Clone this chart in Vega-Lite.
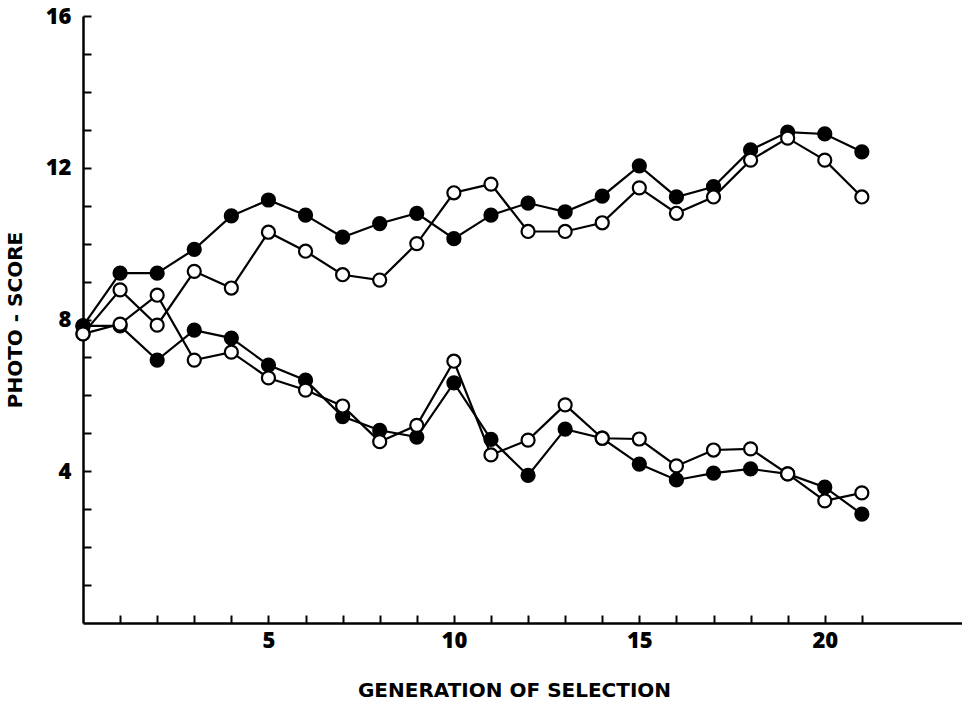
{
  "$schema": "https://vega.github.io/schema/vega-lite/v6.json",
  "width": 879,
  "height": 607,
  "autosize": {"type": "none"},
  "padding": {"left": 83, "top": 16, "right": 0, "bottom": 80},
  "background": "white",
  "config": {
    "view": {"stroke": null},
    "axis": {
      "grid": false,
      "domainColor": "black",
      "domainWidth": 2.5,
      "tickColor": "black",
      "tickWidth": 2,
      "tickSize": -8,
      "labelFont": "Open Sans",
      "labelFontWeight": 800,
      "labelFontSize": 22,
      "labelColor": "black",
      "titleFont": "DejaVu Sans",
      "titleFontWeight": "bold",
      "titleFontSize": 20,
      "titleColor": "black"
    }
  },
  "data": {
    "values": [
      {"g": 0, "v": 7.83, "series": "upper_filled", "type": "filled"},
      {"g": 1, "v": 9.22, "series": "upper_filled", "type": "filled"},
      {"g": 2, "v": 9.22, "series": "upper_filled", "type": "filled"},
      {"g": 3, "v": 9.85, "series": "upper_filled", "type": "filled"},
      {"g": 4, "v": 10.73, "series": "upper_filled", "type": "filled"},
      {"g": 5, "v": 11.15, "series": "upper_filled", "type": "filled"},
      {"g": 6, "v": 10.75, "series": "upper_filled", "type": "filled"},
      {"g": 7, "v": 10.17, "series": "upper_filled", "type": "filled"},
      {"g": 8, "v": 10.53, "series": "upper_filled", "type": "filled"},
      {"g": 9, "v": 10.8, "series": "upper_filled", "type": "filled"},
      {"g": 10, "v": 10.13, "series": "upper_filled", "type": "filled"},
      {"g": 11, "v": 10.75, "series": "upper_filled", "type": "filled"},
      {"g": 12, "v": 11.07, "series": "upper_filled", "type": "filled"},
      {"g": 13, "v": 10.84, "series": "upper_filled", "type": "filled"},
      {"g": 14, "v": 11.25, "series": "upper_filled", "type": "filled"},
      {"g": 15, "v": 12.05, "series": "upper_filled", "type": "filled"},
      {"g": 16, "v": 11.23, "series": "upper_filled", "type": "filled"},
      {"g": 17, "v": 11.5, "series": "upper_filled", "type": "filled"},
      {"g": 18, "v": 12.47, "series": "upper_filled", "type": "filled"},
      {"g": 19, "v": 12.94, "series": "upper_filled", "type": "filled"},
      {"g": 20, "v": 12.89, "series": "upper_filled", "type": "filled"},
      {"g": 21, "v": 12.42, "series": "upper_filled", "type": "filled"},

      {"g": 0, "v": 7.62, "series": "upper_open", "type": "open"},
      {"g": 1, "v": 8.78, "series": "upper_open", "type": "open"},
      {"g": 2, "v": 7.85, "series": "upper_open", "type": "open"},
      {"g": 3, "v": 9.27, "series": "upper_open", "type": "open"},
      {"g": 4, "v": 8.83, "series": "upper_open", "type": "open"},
      {"g": 5, "v": 10.3, "series": "upper_open", "type": "open"},
      {"g": 6, "v": 9.8, "series": "upper_open", "type": "open"},
      {"g": 7, "v": 9.18, "series": "upper_open", "type": "open"},
      {"g": 8, "v": 9.04, "series": "upper_open", "type": "open"},
      {"g": 9, "v": 10.0, "series": "upper_open", "type": "open"},
      {"g": 10, "v": 11.34, "series": "upper_open", "type": "open"},
      {"g": 11, "v": 11.57, "series": "upper_open", "type": "open"},
      {"g": 12, "v": 10.32, "series": "upper_open", "type": "open"},
      {"g": 13, "v": 10.32, "series": "upper_open", "type": "open"},
      {"g": 14, "v": 10.55, "series": "upper_open", "type": "open"},
      {"g": 15, "v": 11.47, "series": "upper_open", "type": "open"},
      {"g": 16, "v": 10.8, "series": "upper_open", "type": "open"},
      {"g": 17, "v": 11.23, "series": "upper_open", "type": "open"},
      {"g": 18, "v": 12.2, "series": "upper_open", "type": "open"},
      {"g": 19, "v": 12.78, "series": "upper_open", "type": "open"},
      {"g": 20, "v": 12.2, "series": "upper_open", "type": "open"},
      {"g": 21, "v": 11.23, "series": "upper_open", "type": "open"},

      {"g": 0, "v": 7.83, "series": "lower_filled", "type": "filled"},
      {"g": 1, "v": 7.83, "series": "lower_filled", "type": "filled"},
      {"g": 2, "v": 6.93, "series": "lower_filled", "type": "filled"},
      {"g": 3, "v": 7.72, "series": "lower_filled", "type": "filled"},
      {"g": 4, "v": 7.51, "series": "lower_filled", "type": "filled"},
      {"g": 5, "v": 6.8, "series": "lower_filled", "type": "filled"},
      {"g": 6, "v": 6.4, "series": "lower_filled", "type": "filled"},
      {"g": 7, "v": 5.44, "series": "lower_filled", "type": "filled"},
      {"g": 8, "v": 5.08, "series": "lower_filled", "type": "filled"},
      {"g": 9, "v": 4.9, "series": "lower_filled", "type": "filled"},
      {"g": 10, "v": 6.33, "series": "lower_filled", "type": "filled"},
      {"g": 11, "v": 4.84, "series": "lower_filled", "type": "filled"},
      {"g": 12, "v": 3.89, "series": "lower_filled", "type": "filled"},
      {"g": 13, "v": 5.11, "series": "lower_filled", "type": "filled"},
      {"g": 14, "v": 4.87, "series": "lower_filled", "type": "filled"},
      {"g": 15, "v": 4.19, "series": "lower_filled", "type": "filled"},
      {"g": 16, "v": 3.77, "series": "lower_filled", "type": "filled"},
      {"g": 17, "v": 3.95, "series": "lower_filled", "type": "filled"},
      {"g": 18, "v": 4.06, "series": "lower_filled", "type": "filled"},
      {"g": 19, "v": 3.93, "series": "lower_filled", "type": "filled"},
      {"g": 20, "v": 3.58, "series": "lower_filled", "type": "filled"},
      {"g": 21, "v": 2.87, "series": "lower_filled", "type": "filled"},

      {"g": 0, "v": 7.62, "series": "lower_open", "type": "open"},
      {"g": 1, "v": 7.88, "series": "lower_open", "type": "open"},
      {"g": 2, "v": 8.64, "series": "lower_open", "type": "open"},
      {"g": 3, "v": 6.93, "series": "lower_open", "type": "open"},
      {"g": 4, "v": 7.14, "series": "lower_open", "type": "open"},
      {"g": 5, "v": 6.46, "series": "lower_open", "type": "open"},
      {"g": 6, "v": 6.14, "series": "lower_open", "type": "open"},
      {"g": 7, "v": 5.72, "series": "lower_open", "type": "open"},
      {"g": 8, "v": 4.78, "series": "lower_open", "type": "open"},
      {"g": 9, "v": 5.21, "series": "lower_open", "type": "open"},
      {"g": 10, "v": 6.9, "series": "lower_open", "type": "open"},
      {"g": 11, "v": 4.43, "series": "lower_open", "type": "open"},
      {"g": 12, "v": 4.82, "series": "lower_open", "type": "open"},
      {"g": 13, "v": 5.75, "series": "lower_open", "type": "open"},
      {"g": 14, "v": 4.87, "series": "lower_open", "type": "open"},
      {"g": 15, "v": 4.85, "series": "lower_open", "type": "open"},
      {"g": 16, "v": 4.14, "series": "lower_open", "type": "open"},
      {"g": 17, "v": 4.56, "series": "lower_open", "type": "open"},
      {"g": 18, "v": 4.59, "series": "lower_open", "type": "open"},
      {"g": 19, "v": 3.93, "series": "lower_open", "type": "open"},
      {"g": 20, "v": 3.22, "series": "lower_open", "type": "open"},
      {"g": 21, "v": 3.43, "series": "lower_open", "type": "open"}
    ]
  },
  "encoding": {
    "x": {
      "field": "g",
      "type": "quantitative",
      "scale": {"domain": [0, 23.7], "nice": false, "zero": false},
      "axis": {
        "title": "GENERATION OF SELECTION",
        "titleX": 431,
        "values": [1,2,3,4,5,6,7,8,9,10,11,12,13,14,15,16,17,18,19,20,21],
        "labelExpr": "datum.value % 5 === 0 ? datum.label : ''",
        "labelPadding": 15,
        "titlePadding": 29
      }
    },
    "y": {
      "field": "v",
      "type": "quantitative",
      "scale": {"domain": [0, 16], "nice": false},
      "axis": {
        "title": "PHOTO - SCORE",
        "values": [1,2,3,4,5,6,7,8,9,10,11,12,13,14,15,16],
        "labelExpr": "datum.value % 4 === 0 ? datum.label : ''",
        "labelPadding": 20,
        "titlePadding": 20
      }
    }
  },
  "layer": [
    {
      "mark": {"type": "line", "color": "black", "strokeWidth": 2.2},
      "encoding": {"detail": {"field": "series"}}
    },
    {
      "mark": {"type": "point", "shape": "circle", "size": 170, "strokeWidth": 2.2, "stroke": "black", "opacity": 1},
      "encoding": {
        "fill": {
          "field": "type",
          "type": "nominal",
          "scale": {"domain": ["filled", "open"], "range": ["black", "white"]},
          "legend": null
        }
      }
    }
  ]
}
